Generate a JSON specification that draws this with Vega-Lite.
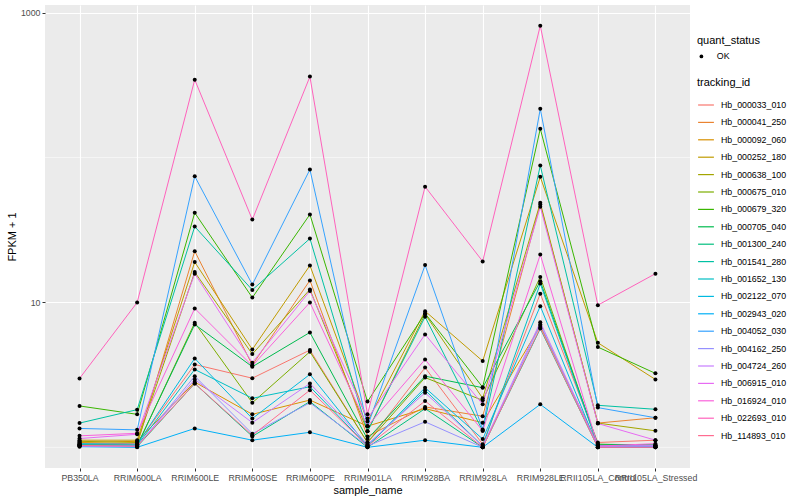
{
"$schema": "https://vega.github.io/schema/vega-lite/v6.json",
"width": 645, "height": 463,
"autosize": {"type": "none"},
"padding": {"left": 45, "top": 5, "right": 110, "bottom": 32},
"background": "white",
"config": {
  "view": {"fill": "#EBEBEB", "stroke": null},
  "font": "Liberation Sans",
  "axis": {"gridColor": "white", "gridWidth": 1.1, "domain": false, "tickColor": "#333333", "tickSize": 3, "labelColor": "#4D4D4D", "labelFontSize": 8.8, "titleFontSize": 11, "titleColor": "black", "titleFontWeight": "normal", "labelPadding": 2},
  "legend": {"titleFontSize": 11, "titleFontWeight": "normal", "titleColor": "black", "labelFontSize": 8.8, "labelColor": "black"}
},
"datasets": {
  "minor": [{"y": 1}, {"y": 100}],
  "d": [
{"tracking_id":"Hb_000033_010","sample_name":"PB350LA","fpkm":1.07,"quant_status":"OK"},
{"tracking_id":"Hb_000033_010","sample_name":"RRIM600LA","fpkm":1.06,"quant_status":"OK"},
{"tracking_id":"Hb_000033_010","sample_name":"RRIM600LE","fpkm":3.73,"quant_status":"OK"},
{"tracking_id":"Hb_000033_010","sample_name":"RRIM600SE","fpkm":3.0,"quant_status":"OK"},
{"tracking_id":"Hb_000033_010","sample_name":"RRIM600PE","fpkm":4.69,"quant_status":"OK"},
{"tracking_id":"Hb_000033_010","sample_name":"RRIM901LA","fpkm":1.08,"quant_status":"OK"},
{"tracking_id":"Hb_000033_010","sample_name":"RRIM928BA","fpkm":3.55,"quant_status":"OK"},
{"tracking_id":"Hb_000033_010","sample_name":"RRIM928LA","fpkm":1.05,"quant_status":"OK"},
{"tracking_id":"Hb_000033_010","sample_name":"RRIM928LE","fpkm":11.5,"quant_status":"OK"},
{"tracking_id":"Hb_000033_010","sample_name":"RRII105LA_Control","fpkm":1.08,"quant_status":"OK"},
{"tracking_id":"Hb_000033_010","sample_name":"RRII105LA_Stressed","fpkm":1.12,"quant_status":"OK"},
{"tracking_id":"Hb_000041_250","sample_name":"PB350LA","fpkm":1.05,"quant_status":"OK"},
{"tracking_id":"Hb_000041_250","sample_name":"RRIM600LA","fpkm":1.04,"quant_status":"OK"},
{"tracking_id":"Hb_000041_250","sample_name":"RRIM600LE","fpkm":22.6,"quant_status":"OK"},
{"tracking_id":"Hb_000041_250","sample_name":"RRIM600SE","fpkm":3.7,"quant_status":"OK"},
{"tracking_id":"Hb_000041_250","sample_name":"RRIM600PE","fpkm":14.2,"quant_status":"OK"},
{"tracking_id":"Hb_000041_250","sample_name":"RRIM901LA","fpkm":1.19,"quant_status":"OK"},
{"tracking_id":"Hb_000041_250","sample_name":"RRIM928BA","fpkm":1.9,"quant_status":"OK"},
{"tracking_id":"Hb_000041_250","sample_name":"RRIM928LA","fpkm":1.64,"quant_status":"OK"},
{"tracking_id":"Hb_000041_250","sample_name":"RRIM928LE","fpkm":47.4,"quant_status":"OK"},
{"tracking_id":"Hb_000041_250","sample_name":"RRII105LA_Control","fpkm":1.47,"quant_status":"OK"},
{"tracking_id":"Hb_000041_250","sample_name":"RRII105LA_Stressed","fpkm":1.6,"quant_status":"OK"},
{"tracking_id":"Hb_000092_060","sample_name":"PB350LA","fpkm":1.08,"quant_status":"OK"},
{"tracking_id":"Hb_000092_060","sample_name":"RRIM600LA","fpkm":1.1,"quant_status":"OK"},
{"tracking_id":"Hb_000092_060","sample_name":"RRIM600LE","fpkm":2.82,"quant_status":"OK"},
{"tracking_id":"Hb_000092_060","sample_name":"RRIM600SE","fpkm":1.69,"quant_status":"OK"},
{"tracking_id":"Hb_000092_060","sample_name":"RRIM600PE","fpkm":2.12,"quant_status":"OK"},
{"tracking_id":"Hb_000092_060","sample_name":"RRIM901LA","fpkm":1.4,"quant_status":"OK"},
{"tracking_id":"Hb_000092_060","sample_name":"RRIM928BA","fpkm":1.85,"quant_status":"OK"},
{"tracking_id":"Hb_000092_060","sample_name":"RRIM928LA","fpkm":1.48,"quant_status":"OK"},
{"tracking_id":"Hb_000092_060","sample_name":"RRIM928LE","fpkm":6.87,"quant_status":"OK"},
{"tracking_id":"Hb_000092_060","sample_name":"RRII105LA_Control","fpkm":1.05,"quant_status":"OK"},
{"tracking_id":"Hb_000092_060","sample_name":"RRII105LA_Stressed","fpkm":1.03,"quant_status":"OK"},
{"tracking_id":"Hb_000252_180","sample_name":"PB350LA","fpkm":1.12,"quant_status":"OK"},
{"tracking_id":"Hb_000252_180","sample_name":"RRIM600LA","fpkm":1.12,"quant_status":"OK"},
{"tracking_id":"Hb_000252_180","sample_name":"RRIM600LE","fpkm":19,"quant_status":"OK"},
{"tracking_id":"Hb_000252_180","sample_name":"RRIM600SE","fpkm":4.74,"quant_status":"OK"},
{"tracking_id":"Hb_000252_180","sample_name":"RRIM600PE","fpkm":18,"quant_status":"OK"},
{"tracking_id":"Hb_000252_180","sample_name":"RRIM901LA","fpkm":1.51,"quant_status":"OK"},
{"tracking_id":"Hb_000252_180","sample_name":"RRIM928BA","fpkm":8.71,"quant_status":"OK"},
{"tracking_id":"Hb_000252_180","sample_name":"RRIM928LA","fpkm":3.94,"quant_status":"OK"},
{"tracking_id":"Hb_000252_180","sample_name":"RRIM928LE","fpkm":73.6,"quant_status":"OK"},
{"tracking_id":"Hb_000252_180","sample_name":"RRII105LA_Control","fpkm":5.27,"quant_status":"OK"},
{"tracking_id":"Hb_000252_180","sample_name":"RRII105LA_Stressed","fpkm":2.94,"quant_status":"OK"},
{"tracking_id":"Hb_000638_100","sample_name":"PB350LA","fpkm":1.1,"quant_status":"OK"},
{"tracking_id":"Hb_000638_100","sample_name":"RRIM600LA","fpkm":1.08,"quant_status":"OK"},
{"tracking_id":"Hb_000638_100","sample_name":"RRIM600LE","fpkm":16.2,"quant_status":"OK"},
{"tracking_id":"Hb_000638_100","sample_name":"RRIM600SE","fpkm":4.4,"quant_status":"OK"},
{"tracking_id":"Hb_000638_100","sample_name":"RRIM600PE","fpkm":12.3,"quant_status":"OK"},
{"tracking_id":"Hb_000638_100","sample_name":"RRIM901LA","fpkm":1.29,"quant_status":"OK"},
{"tracking_id":"Hb_000638_100","sample_name":"RRIM928BA","fpkm":8.3,"quant_status":"OK"},
{"tracking_id":"Hb_000638_100","sample_name":"RRIM928LA","fpkm":2.18,"quant_status":"OK"},
{"tracking_id":"Hb_000638_100","sample_name":"RRIM928LE","fpkm":48.7,"quant_status":"OK"},
{"tracking_id":"Hb_000638_100","sample_name":"RRII105LA_Control","fpkm":1.47,"quant_status":"OK"},
{"tracking_id":"Hb_000638_100","sample_name":"RRII105LA_Stressed","fpkm":1.3,"quant_status":"OK"},
{"tracking_id":"Hb_000675_010","sample_name":"PB350LA","fpkm":1.03,"quant_status":"OK"},
{"tracking_id":"Hb_000675_010","sample_name":"RRIM600LA","fpkm":1.02,"quant_status":"OK"},
{"tracking_id":"Hb_000675_010","sample_name":"RRIM600LE","fpkm":7.25,"quant_status":"OK"},
{"tracking_id":"Hb_000675_010","sample_name":"RRIM600SE","fpkm":2.03,"quant_status":"OK"},
{"tracking_id":"Hb_000675_010","sample_name":"RRIM600PE","fpkm":4.57,"quant_status":"OK"},
{"tracking_id":"Hb_000675_010","sample_name":"RRIM901LA","fpkm":1.08,"quant_status":"OK"},
{"tracking_id":"Hb_000675_010","sample_name":"RRIM928BA","fpkm":3.03,"quant_status":"OK"},
{"tracking_id":"Hb_000675_010","sample_name":"RRIM928LA","fpkm":2.11,"quant_status":"OK"},
{"tracking_id":"Hb_000675_010","sample_name":"RRIM928LE","fpkm":15,"quant_status":"OK"},
{"tracking_id":"Hb_000675_010","sample_name":"RRII105LA_Control","fpkm":1.03,"quant_status":"OK"},
{"tracking_id":"Hb_000675_010","sample_name":"RRII105LA_Stressed","fpkm":1.02,"quant_status":"OK"},
{"tracking_id":"Hb_000679_320","sample_name":"PB350LA","fpkm":1.93,"quant_status":"OK"},
{"tracking_id":"Hb_000679_320","sample_name":"RRIM600LA","fpkm":1.69,"quant_status":"OK"},
{"tracking_id":"Hb_000679_320","sample_name":"RRIM600LE","fpkm":41.6,"quant_status":"OK"},
{"tracking_id":"Hb_000679_320","sample_name":"RRIM600SE","fpkm":10.8,"quant_status":"OK"},
{"tracking_id":"Hb_000679_320","sample_name":"RRIM600PE","fpkm":40.5,"quant_status":"OK"},
{"tracking_id":"Hb_000679_320","sample_name":"RRIM901LA","fpkm":2.07,"quant_status":"OK"},
{"tracking_id":"Hb_000679_320","sample_name":"RRIM928BA","fpkm":8.4,"quant_status":"OK"},
{"tracking_id":"Hb_000679_320","sample_name":"RRIM928LA","fpkm":2.6,"quant_status":"OK"},
{"tracking_id":"Hb_000679_320","sample_name":"RRIM928LE","fpkm":158,"quant_status":"OK"},
{"tracking_id":"Hb_000679_320","sample_name":"RRII105LA_Control","fpkm":4.92,"quant_status":"OK"},
{"tracking_id":"Hb_000679_320","sample_name":"RRII105LA_Stressed","fpkm":3.24,"quant_status":"OK"},
{"tracking_id":"Hb_000705_040","sample_name":"PB350LA","fpkm":1.04,"quant_status":"OK"},
{"tracking_id":"Hb_000705_040","sample_name":"RRIM600LA","fpkm":1.03,"quant_status":"OK"},
{"tracking_id":"Hb_000705_040","sample_name":"RRIM600LE","fpkm":7.05,"quant_status":"OK"},
{"tracking_id":"Hb_000705_040","sample_name":"RRIM600SE","fpkm":3.6,"quant_status":"OK"},
{"tracking_id":"Hb_000705_040","sample_name":"RRIM600PE","fpkm":6.21,"quant_status":"OK"},
{"tracking_id":"Hb_000705_040","sample_name":"RRIM901LA","fpkm":1.14,"quant_status":"OK"},
{"tracking_id":"Hb_000705_040","sample_name":"RRIM928BA","fpkm":3.1,"quant_status":"OK"},
{"tracking_id":"Hb_000705_040","sample_name":"RRIM928LA","fpkm":2.58,"quant_status":"OK"},
{"tracking_id":"Hb_000705_040","sample_name":"RRIM928LE","fpkm":14,"quant_status":"OK"},
{"tracking_id":"Hb_000705_040","sample_name":"RRII105LA_Control","fpkm":1.05,"quant_status":"OK"},
{"tracking_id":"Hb_000705_040","sample_name":"RRII105LA_Stressed","fpkm":1.04,"quant_status":"OK"},
{"tracking_id":"Hb_001300_240","sample_name":"PB350LA","fpkm":1.02,"quant_status":"OK"},
{"tracking_id":"Hb_001300_240","sample_name":"RRIM600LA","fpkm":1.01,"quant_status":"OK"},
{"tracking_id":"Hb_001300_240","sample_name":"RRIM600LE","fpkm":2.76,"quant_status":"OK"},
{"tracking_id":"Hb_001300_240","sample_name":"RRIM600SE","fpkm":1.19,"quant_status":"OK"},
{"tracking_id":"Hb_001300_240","sample_name":"RRIM600PE","fpkm":2.07,"quant_status":"OK"},
{"tracking_id":"Hb_001300_240","sample_name":"RRIM901LA","fpkm":1.0,"quant_status":"OK"},
{"tracking_id":"Hb_001300_240","sample_name":"RRIM928BA","fpkm":1.85,"quant_status":"OK"},
{"tracking_id":"Hb_001300_240","sample_name":"RRIM928LA","fpkm":1.0,"quant_status":"OK"},
{"tracking_id":"Hb_001300_240","sample_name":"RRIM928LE","fpkm":6.6,"quant_status":"OK"},
{"tracking_id":"Hb_001300_240","sample_name":"RRII105LA_Control","fpkm":1.0,"quant_status":"OK"},
{"tracking_id":"Hb_001300_240","sample_name":"RRII105LA_Stressed","fpkm":1.0,"quant_status":"OK"},
{"tracking_id":"Hb_001541_280","sample_name":"PB350LA","fpkm":1.47,"quant_status":"OK"},
{"tracking_id":"Hb_001541_280","sample_name":"RRIM600LA","fpkm":1.82,"quant_status":"OK"},
{"tracking_id":"Hb_001541_280","sample_name":"RRIM600LE","fpkm":33.4,"quant_status":"OK"},
{"tracking_id":"Hb_001541_280","sample_name":"RRIM600SE","fpkm":12.2,"quant_status":"OK"},
{"tracking_id":"Hb_001541_280","sample_name":"RRIM600PE","fpkm":27.6,"quant_status":"OK"},
{"tracking_id":"Hb_001541_280","sample_name":"RRIM901LA","fpkm":1.29,"quant_status":"OK"},
{"tracking_id":"Hb_001541_280","sample_name":"RRIM928BA","fpkm":7.96,"quant_status":"OK"},
{"tracking_id":"Hb_001541_280","sample_name":"RRIM928LA","fpkm":1.3,"quant_status":"OK"},
{"tracking_id":"Hb_001541_280","sample_name":"RRIM928LE","fpkm":88,"quant_status":"OK"},
{"tracking_id":"Hb_001541_280","sample_name":"RRII105LA_Control","fpkm":1.95,"quant_status":"OK"},
{"tracking_id":"Hb_001541_280","sample_name":"RRII105LA_Stressed","fpkm":1.83,"quant_status":"OK"},
{"tracking_id":"Hb_001652_130","sample_name":"PB350LA","fpkm":1.04,"quant_status":"OK"},
{"tracking_id":"Hb_001652_130","sample_name":"RRIM600LA","fpkm":1.03,"quant_status":"OK"},
{"tracking_id":"Hb_001652_130","sample_name":"RRIM600LE","fpkm":3.45,"quant_status":"OK"},
{"tracking_id":"Hb_001652_130","sample_name":"RRIM600SE","fpkm":2.18,"quant_status":"OK"},
{"tracking_id":"Hb_001652_130","sample_name":"RRIM600PE","fpkm":2.62,"quant_status":"OK"},
{"tracking_id":"Hb_001652_130","sample_name":"RRIM901LA","fpkm":1.02,"quant_status":"OK"},
{"tracking_id":"Hb_001652_130","sample_name":"RRIM928BA","fpkm":2.48,"quant_status":"OK"},
{"tracking_id":"Hb_001652_130","sample_name":"RRIM928LA","fpkm":1.02,"quant_status":"OK"},
{"tracking_id":"Hb_001652_130","sample_name":"RRIM928LE","fpkm":13.5,"quant_status":"OK"},
{"tracking_id":"Hb_001652_130","sample_name":"RRII105LA_Control","fpkm":1.03,"quant_status":"OK"},
{"tracking_id":"Hb_001652_130","sample_name":"RRII105LA_Stressed","fpkm":1.02,"quant_status":"OK"},
{"tracking_id":"Hb_002122_070","sample_name":"PB350LA","fpkm":1.06,"quant_status":"OK"},
{"tracking_id":"Hb_002122_070","sample_name":"RRIM600LA","fpkm":1.05,"quant_status":"OK"},
{"tracking_id":"Hb_002122_070","sample_name":"RRIM600LE","fpkm":4.11,"quant_status":"OK"},
{"tracking_id":"Hb_002122_070","sample_name":"RRIM600SE","fpkm":1.58,"quant_status":"OK"},
{"tracking_id":"Hb_002122_070","sample_name":"RRIM600PE","fpkm":3.19,"quant_status":"OK"},
{"tracking_id":"Hb_002122_070","sample_name":"RRIM901LA","fpkm":1.02,"quant_status":"OK"},
{"tracking_id":"Hb_002122_070","sample_name":"RRIM928BA","fpkm":2.58,"quant_status":"OK"},
{"tracking_id":"Hb_002122_070","sample_name":"RRIM928LA","fpkm":1.14,"quant_status":"OK"},
{"tracking_id":"Hb_002122_070","sample_name":"RRIM928LE","fpkm":9.43,"quant_status":"OK"},
{"tracking_id":"Hb_002122_070","sample_name":"RRII105LA_Control","fpkm":1.0,"quant_status":"OK"},
{"tracking_id":"Hb_002122_070","sample_name":"RRII105LA_Stressed","fpkm":1.01,"quant_status":"OK"},
{"tracking_id":"Hb_002943_020","sample_name":"PB350LA","fpkm":1.01,"quant_status":"OK"},
{"tracking_id":"Hb_002943_020","sample_name":"RRIM600LA","fpkm":1.0,"quant_status":"OK"},
{"tracking_id":"Hb_002943_020","sample_name":"RRIM600LE","fpkm":1.35,"quant_status":"OK"},
{"tracking_id":"Hb_002943_020","sample_name":"RRIM600SE","fpkm":1.12,"quant_status":"OK"},
{"tracking_id":"Hb_002943_020","sample_name":"RRIM600PE","fpkm":1.27,"quant_status":"OK"},
{"tracking_id":"Hb_002943_020","sample_name":"RRIM901LA","fpkm":1.0,"quant_status":"OK"},
{"tracking_id":"Hb_002943_020","sample_name":"RRIM928BA","fpkm":1.12,"quant_status":"OK"},
{"tracking_id":"Hb_002943_020","sample_name":"RRIM928LA","fpkm":1.0,"quant_status":"OK"},
{"tracking_id":"Hb_002943_020","sample_name":"RRIM928LE","fpkm":1.98,"quant_status":"OK"},
{"tracking_id":"Hb_002943_020","sample_name":"RRII105LA_Control","fpkm":1.0,"quant_status":"OK"},
{"tracking_id":"Hb_002943_020","sample_name":"RRII105LA_Stressed","fpkm":1.0,"quant_status":"OK"},
{"tracking_id":"Hb_004052_030","sample_name":"PB350LA","fpkm":1.35,"quant_status":"OK"},
{"tracking_id":"Hb_004052_030","sample_name":"RRIM600LA","fpkm":1.32,"quant_status":"OK"},
{"tracking_id":"Hb_004052_030","sample_name":"RRIM600LE","fpkm":74.3,"quant_status":"OK"},
{"tracking_id":"Hb_004052_030","sample_name":"RRIM600SE","fpkm":13.3,"quant_status":"OK"},
{"tracking_id":"Hb_004052_030","sample_name":"RRIM600PE","fpkm":82.7,"quant_status":"OK"},
{"tracking_id":"Hb_004052_030","sample_name":"RRIM901LA","fpkm":1.4,"quant_status":"OK"},
{"tracking_id":"Hb_004052_030","sample_name":"RRIM928BA","fpkm":18.1,"quant_status":"OK"},
{"tracking_id":"Hb_004052_030","sample_name":"RRIM928LA","fpkm":1.33,"quant_status":"OK"},
{"tracking_id":"Hb_004052_030","sample_name":"RRIM928LE","fpkm":217,"quant_status":"OK"},
{"tracking_id":"Hb_004052_030","sample_name":"RRII105LA_Control","fpkm":1.88,"quant_status":"OK"},
{"tracking_id":"Hb_004052_030","sample_name":"RRII105LA_Stressed","fpkm":1.6,"quant_status":"OK"},
{"tracking_id":"Hb_004162_250","sample_name":"PB350LA","fpkm":1.02,"quant_status":"OK"},
{"tracking_id":"Hb_004162_250","sample_name":"RRIM600LA","fpkm":1.01,"quant_status":"OK"},
{"tracking_id":"Hb_004162_250","sample_name":"RRIM600LE","fpkm":3.1,"quant_status":"OK"},
{"tracking_id":"Hb_004162_250","sample_name":"RRIM600SE","fpkm":1.24,"quant_status":"OK"},
{"tracking_id":"Hb_004162_250","sample_name":"RRIM600PE","fpkm":2.03,"quant_status":"OK"},
{"tracking_id":"Hb_004162_250","sample_name":"RRIM901LA","fpkm":1.02,"quant_status":"OK"},
{"tracking_id":"Hb_004162_250","sample_name":"RRIM928BA","fpkm":1.5,"quant_status":"OK"},
{"tracking_id":"Hb_004162_250","sample_name":"RRIM928LA","fpkm":1.0,"quant_status":"OK"},
{"tracking_id":"Hb_004162_250","sample_name":"RRIM928LE","fpkm":7.05,"quant_status":"OK"},
{"tracking_id":"Hb_004162_250","sample_name":"RRII105LA_Control","fpkm":1.01,"quant_status":"OK"},
{"tracking_id":"Hb_004162_250","sample_name":"RRII105LA_Stressed","fpkm":1.01,"quant_status":"OK"},
{"tracking_id":"Hb_004724_260","sample_name":"PB350LA","fpkm":1.02,"quant_status":"OK"},
{"tracking_id":"Hb_004724_260","sample_name":"RRIM600LA","fpkm":1.02,"quant_status":"OK"},
{"tracking_id":"Hb_004724_260","sample_name":"RRIM600LE","fpkm":2.94,"quant_status":"OK"},
{"tracking_id":"Hb_004724_260","sample_name":"RRIM600SE","fpkm":1.48,"quant_status":"OK"},
{"tracking_id":"Hb_004724_260","sample_name":"RRIM600PE","fpkm":2.76,"quant_status":"OK"},
{"tracking_id":"Hb_004724_260","sample_name":"RRIM901LA","fpkm":1.05,"quant_status":"OK"},
{"tracking_id":"Hb_004724_260","sample_name":"RRIM928BA","fpkm":2.38,"quant_status":"OK"},
{"tracking_id":"Hb_004724_260","sample_name":"RRIM928LA","fpkm":1.02,"quant_status":"OK"},
{"tracking_id":"Hb_004724_260","sample_name":"RRIM928LE","fpkm":7.31,"quant_status":"OK"},
{"tracking_id":"Hb_004724_260","sample_name":"RRII105LA_Control","fpkm":1.02,"quant_status":"OK"},
{"tracking_id":"Hb_004724_260","sample_name":"RRII105LA_Stressed","fpkm":1.03,"quant_status":"OK"},
{"tracking_id":"Hb_006915_010","sample_name":"PB350LA","fpkm":1.15,"quant_status":"OK"},
{"tracking_id":"Hb_006915_010","sample_name":"RRIM600LA","fpkm":1.23,"quant_status":"OK"},
{"tracking_id":"Hb_006915_010","sample_name":"RRIM600LE","fpkm":15.8,"quant_status":"OK"},
{"tracking_id":"Hb_006915_010","sample_name":"RRIM600SE","fpkm":3.84,"quant_status":"OK"},
{"tracking_id":"Hb_006915_010","sample_name":"RRIM600PE","fpkm":12,"quant_status":"OK"},
{"tracking_id":"Hb_006915_010","sample_name":"RRIM901LA","fpkm":1.58,"quant_status":"OK"},
{"tracking_id":"Hb_006915_010","sample_name":"RRIM928BA","fpkm":6.02,"quant_status":"OK"},
{"tracking_id":"Hb_006915_010","sample_name":"RRIM928LA","fpkm":1.98,"quant_status":"OK"},
{"tracking_id":"Hb_006915_010","sample_name":"RRIM928LE","fpkm":45.7,"quant_status":"OK"},
{"tracking_id":"Hb_006915_010","sample_name":"RRII105LA_Control","fpkm":1.46,"quant_status":"OK"},
{"tracking_id":"Hb_006915_010","sample_name":"RRII105LA_Stressed","fpkm":1.12,"quant_status":"OK"},
{"tracking_id":"Hb_016924_010","sample_name":"PB350LA","fpkm":1.2,"quant_status":"OK"},
{"tracking_id":"Hb_016924_010","sample_name":"RRIM600LA","fpkm":1.25,"quant_status":"OK"},
{"tracking_id":"Hb_016924_010","sample_name":"RRIM600LE","fpkm":9.1,"quant_status":"OK"},
{"tracking_id":"Hb_016924_010","sample_name":"RRIM600SE","fpkm":3.65,"quant_status":"OK"},
{"tracking_id":"Hb_016924_010","sample_name":"RRIM600PE","fpkm":10,"quant_status":"OK"},
{"tracking_id":"Hb_016924_010","sample_name":"RRIM901LA","fpkm":1.4,"quant_status":"OK"},
{"tracking_id":"Hb_016924_010","sample_name":"RRIM928BA","fpkm":4.04,"quant_status":"OK"},
{"tracking_id":"Hb_016924_010","sample_name":"RRIM928LA","fpkm":1.3,"quant_status":"OK"},
{"tracking_id":"Hb_016924_010","sample_name":"RRIM928LE","fpkm":21.4,"quant_status":"OK"},
{"tracking_id":"Hb_016924_010","sample_name":"RRII105LA_Control","fpkm":1.02,"quant_status":"OK"},
{"tracking_id":"Hb_016924_010","sample_name":"RRII105LA_Stressed","fpkm":1.06,"quant_status":"OK"},
{"tracking_id":"Hb_022693_010","sample_name":"PB350LA","fpkm":2.99,"quant_status":"OK"},
{"tracking_id":"Hb_022693_010","sample_name":"RRIM600LA","fpkm":10,"quant_status":"OK"},
{"tracking_id":"Hb_022693_010","sample_name":"RRIM600LE","fpkm":345,"quant_status":"OK"},
{"tracking_id":"Hb_022693_010","sample_name":"RRIM600SE","fpkm":37.3,"quant_status":"OK"},
{"tracking_id":"Hb_022693_010","sample_name":"RRIM600PE","fpkm":362,"quant_status":"OK"},
{"tracking_id":"Hb_022693_010","sample_name":"RRIM901LA","fpkm":1.69,"quant_status":"OK"},
{"tracking_id":"Hb_022693_010","sample_name":"RRIM928BA","fpkm":63,"quant_status":"OK"},
{"tracking_id":"Hb_022693_010","sample_name":"RRIM928LA","fpkm":19.2,"quant_status":"OK"},
{"tracking_id":"Hb_022693_010","sample_name":"RRIM928LE","fpkm":813,"quant_status":"OK"},
{"tracking_id":"Hb_022693_010","sample_name":"RRII105LA_Control","fpkm":9.58,"quant_status":"OK"},
{"tracking_id":"Hb_022693_010","sample_name":"RRII105LA_Stressed","fpkm":15.8,"quant_status":"OK"},
{"tracking_id":"Hb_114893_010","sample_name":"PB350LA","fpkm":1.03,"quant_status":"OK"},
{"tracking_id":"Hb_114893_010","sample_name":"RRIM600LA","fpkm":1.02,"quant_status":"OK"},
{"tracking_id":"Hb_114893_010","sample_name":"RRIM600LE","fpkm":2.76,"quant_status":"OK"},
{"tracking_id":"Hb_114893_010","sample_name":"RRIM600SE","fpkm":1.21,"quant_status":"OK"},
{"tracking_id":"Hb_114893_010","sample_name":"RRIM600PE","fpkm":2.48,"quant_status":"OK"},
{"tracking_id":"Hb_114893_010","sample_name":"RRIM901LA","fpkm":1.02,"quant_status":"OK"},
{"tracking_id":"Hb_114893_010","sample_name":"RRIM928BA","fpkm":2.09,"quant_status":"OK"},
{"tracking_id":"Hb_114893_010","sample_name":"RRIM928LA","fpkm":1.0,"quant_status":"OK"},
{"tracking_id":"Hb_114893_010","sample_name":"RRIM928LE","fpkm":6.69,"quant_status":"OK"},
{"tracking_id":"Hb_114893_010","sample_name":"RRII105LA_Control","fpkm":1.0,"quant_status":"OK"},
{"tracking_id":"Hb_114893_010","sample_name":"RRII105LA_Stressed","fpkm":1.0,"quant_status":"OK"}
  ]
},
"layer": [
  {
    "data": {"name": "minor"},
    "mark": {"type": "rule", "color": "white", "strokeWidth": 0.55},
    "encoding": {
      "y": {"field": "y", "type": "quantitative", "scale": {"type": "log", "domain": [0.72, 1130], "nice": false}}
    }
  },
  {
    "data": {"name": "d"},
    "mark": {"type": "line", "strokeWidth": 1},
    "encoding": {
      "x": {"field": "sample_name", "type": "nominal", "title": "sample_name",
            "scale": {"type": "point", "padding": 0.6, "domain": ["PB350LA","RRIM600LA","RRIM600LE","RRIM600SE","RRIM600PE","RRIM901LA","RRIM928BA","RRIM928LA","RRIM928LE","RRII105LA_Control","RRII105LA_Stressed"]},
            "axis": {"labelAngle": 0, "grid": true, "titlePadding": 3}},
      "y": {"field": "fpkm", "type": "quantitative", "title": "FPKM + 1",
            "scale": {"type": "log", "domain": [0.72, 1130], "nice": false},
            "axis": {"values": [10, 1000], "format": "d", "grid": true, "titlePadding": 3}},
      "color": {"field": "tracking_id", "type": "nominal", "title": "tracking_id",
            "scale": {"range": ["#F8766D","#EA8331","#D89000","#C09B00","#A3A500","#7CAE00","#39B600","#00BB4E","#00BF7D","#00C1A3","#00BFC4","#00BAE0","#00B0F6","#35A2FF","#9590FF","#C77CFF","#E76BF3","#FA62DB","#FF62BC","#FF6C91"]},
            "legend": {"orient": "none", "legendX": 652, "legendY": 72, "symbolType": "stroke", "symbolSize": 250, "symbolStrokeWidth": 1.2, "rowPadding": 3.4, "labelOffset": 6, "titlePadding": 8}}
    }
  },
  {
    "data": {"name": "d"},
    "mark": {"type": "point", "filled": true, "size": 16, "color": "black", "opacity": 1},
    "encoding": {
      "x": {"field": "sample_name", "type": "nominal"},
      "y": {"field": "fpkm", "type": "quantitative"},
      "shape": {"field": "quant_status", "type": "nominal", "title": "quant_status",
            "scale": {"range": ["circle"]},
            "legend": {"orient": "none", "legendX": 652, "legendY": 30, "symbolFillColor": "black", "symbolStrokeColor": "black", "symbolSize": 14, "labelOffset": 11, "titlePadding": 6}}
    }
  }
]
}
